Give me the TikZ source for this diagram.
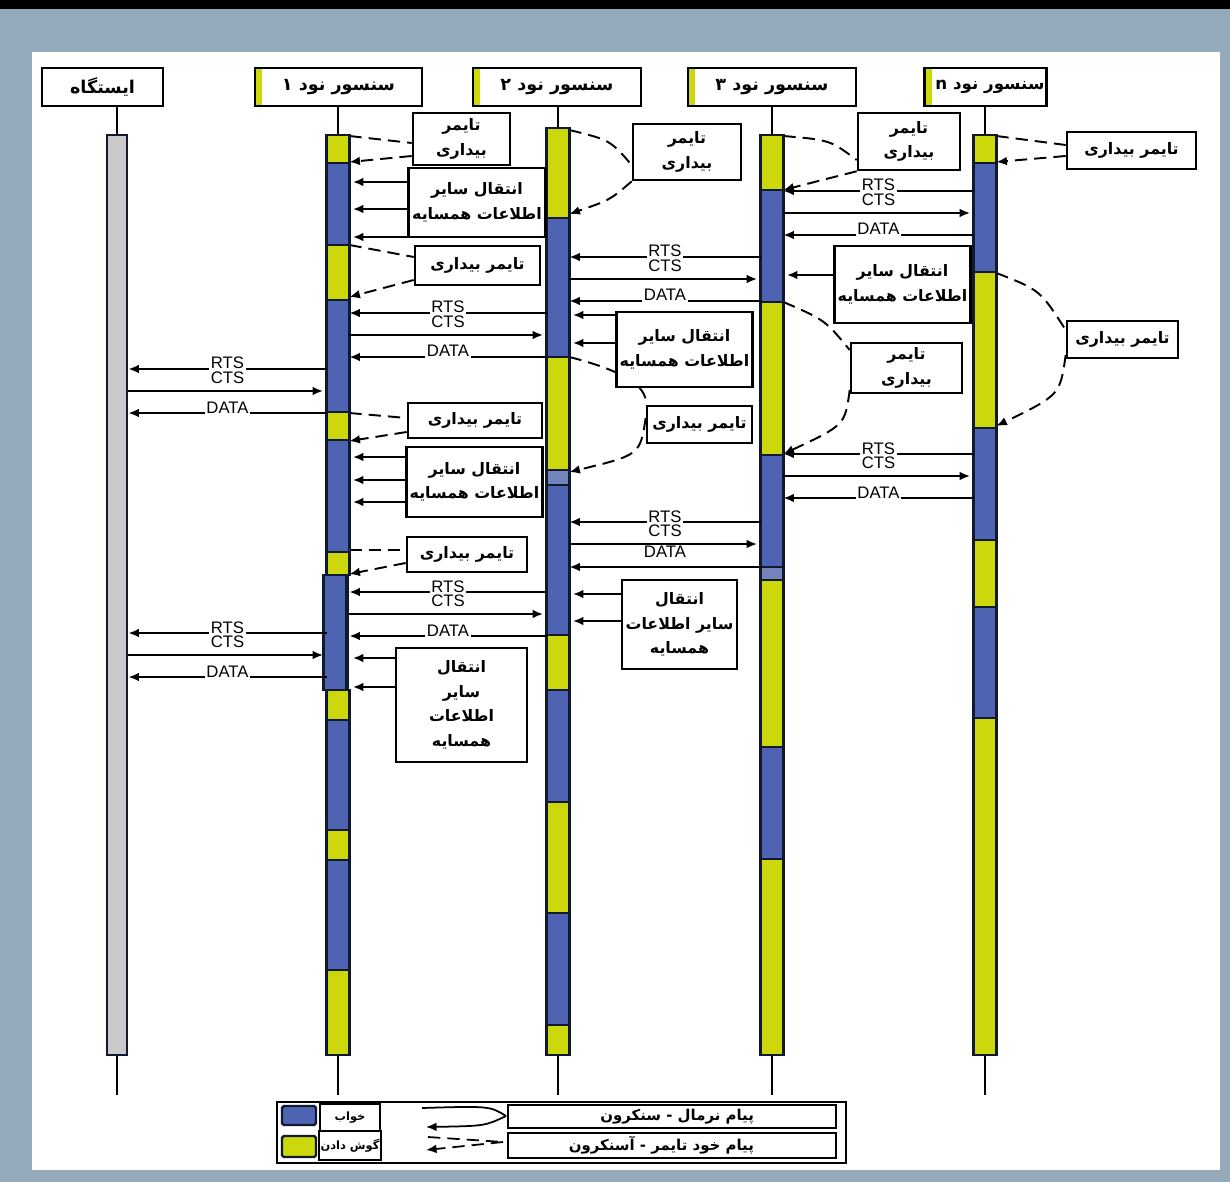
\documentclass[tikz,border=0pt]{standalone}
\usepackage{fontspec}
\usetikzlibrary{arrows.meta}
\setmainfont{Liberation Sans}
\newfontfamily\farsi[Script=Arabic]{DejaVu Sans}
\TeXXeTstate=1
\newcommand{\fa}[1]{{\farsi\bfseries\beginR #1\endR}}

\definecolor{FrameSlate}{HTML}{94A9BA}
\definecolor{BarSleep}{HTML}{4F63B3}
\definecolor{BarSleepPale}{HTML}{7383BC}
\definecolor{BarListen}{HTML}{CCD80C}
\definecolor{BarStation}{HTML}{C9C9C9}
\definecolor{BarEdge}{HTML}{111A2C}

\pgfdeclarelayer{back}
\pgfdeclarelayer{curves}
\pgfsetlayers{back,curves,main}

\tikzset{
  headbox/.style={draw,line width=1.6pt,fill=white,minimum height=0.76cm,font=\fontsize{10}{12}\selectfont},
  headnode/.style={headbox,path picture={\fill[BarListen] (path picture bounding box.north west) rectangle ([xshift=4pt]path picture bounding box.south west);}},
  lifebar/.style={draw=BarEdge,line width=1.6pt,minimum width=0.4cm,inner sep=0pt},
  seg/.style={draw=BarEdge,line width=1.5pt},
  stem/.style={line width=1.3pt},
  infobox/.style={draw,line width=1.5pt,fill=white,align=center,inner sep=2pt,font=\fontsize{9}{14}\selectfont},
  msg/.style={line width=1.1pt,-{Latex[length=6pt,width=5pt]}},
  inform/.style={msg,shorten >=2pt},
  timer/.style={line width=1.1pt,dash pattern=on 7pt off 4pt},
  timerin/.style={timer,-{Latex[length=6pt,width=5pt]}},
  tag/.style={font=\fontsize{9.5}{11}\selectfont,fill=white,inner sep=1pt,anchor=base},
  tagup/.style={font=\fontsize{9.5}{11}\selectfont,inner sep=1pt,anchor=base,yshift=4.5pt},
  swatch/.style={draw=BarEdge,line width=1.4pt,minimum width=0.68cm,rounded corners=1pt},
  keybox/.style={draw,line width=1pt,fill=white,inner sep=1pt,font=\fontsize{6.5}{8}\selectfont},
  keytext/.style={inner sep=1pt,font=\fontsize{8.5}{10}\selectfont}
}

\begin{document}
\begin{tikzpicture}[x=0.02cm,y=-0.02cm]
  \useasboundingbox (0,0) rectangle (1230,1182);
  \begin{pgfonlayer}{back}
    \fill[FrameSlate] (0,0) rectangle (1230,1182);
    \fill[black] (0,0) rectangle (1230,9);
    \fill[white] (32,52) rectangle (1220,1170);
  \end{pgfonlayer}

  % headers
  \node[headbox,minimum width=2.42cm] (H0) at (102.5,87) {\fa{ایستگاه}};
  \node[headnode,minimum width=3.34cm] (H1) at (338.5,87) {\fa{سنسور نود ۱}};
  \node[headnode,minimum width=3.36cm] (H2) at (557,87) {\fa{سنسور نود ۲}};
  \node[headnode,minimum width=3.36cm] (H3) at (772,87) {\fa{سنسور نود ۳}};
  \node[headnode,minimum width=2.3cm,inner xsep=1pt,font=\fontsize{9.5}{12}\selectfont] (H4) at (985.5,87) {\hspace*{5pt}\fa{سنسور نود n}};

  % lifelines
  \node[lifebar,fill=BarStation,minimum height=18.4cm] (L0) at (117,595) {};
  \node[lifebar,minimum height=18.4cm] (L1) at (338,595) {};
  \node[lifebar,minimum height=18.54cm] (L2) at (558,591.5) {};
  \node[lifebar,minimum height=18.4cm] (L3) at (772,595) {};
  \node[lifebar,minimum height=18.4cm] (L4) at (985,595) {};

  \coordinate (B0) at (117,1095);
  \coordinate (B1) at (338,1095);
  \coordinate (B2) at (558,1095);
  \coordinate (B3) at (772,1095);
  \coordinate (B4) at (985,1095);
  \foreach \i in {0,...,4} {
    \draw[stem] (H\i.south -| L\i.north) -- (L\i.north);
    \draw[stem] (L\i.south) -- (B\i);
  }

  % sleep / listen periods
  \foreach \a/\b/\c in {135/163/BarListen,163/245/BarSleep,245/300/BarListen,300/412/BarSleep,412/440/BarListen,440/552/BarSleep,552/575/BarListen,690/720/BarListen,720/830/BarSleep,830/860/BarListen,860/970/BarSleep,970/1055/BarListen}
    \draw[seg,fill=\c] (L1.west |- 0,\a) rectangle (L1.east |- 0,\b);
  \draw[seg,fill=BarSleep] ([xshift=-0.06cm]L1.west |- 0,575) rectangle ([xshift=-0.06cm]L1.east |- 0,690);
  \foreach \a/\b/\c in {128/218/BarListen,218/357/BarSleep,357/470/BarListen,470/485/BarSleepPale,485/635/BarSleep,635/690/BarListen,690/802/BarSleep,802/913/BarListen,913/1025/BarSleep,1025/1055/BarListen}
    \draw[seg,fill=\c] (L2.west |- 0,\a) rectangle (L2.east |- 0,\b);
  \foreach \a/\b/\c in {135/190/BarListen,190/302/BarSleep,302/455/BarListen,455/567/BarSleep,567/580/BarSleepPale,580/747/BarListen,747/859/BarSleep,859/1055/BarListen}
    \draw[seg,fill=\c] (L3.west |- 0,\a) rectangle (L3.east |- 0,\b);
  \foreach \a/\b/\c in {135/163/BarListen,163/272/BarSleep,272/428/BarListen,428/540/BarSleep,540/607/BarListen,607/718/BarSleep,718/1055/BarListen}
    \draw[seg,fill=\c] (L4.west |- 0,\a) rectangle (L4.east |- 0,\b);

  % timer and info boxes
  \node[infobox,minimum width=1.94cm,minimum height=1.04cm] (T1) at (461.5,139) {\fa{تایمر}\\\fa{بیداری}};
  \node[infobox,minimum width=2.52cm,minimum height=1.38cm] (X1) at (477,202.5) {\fa{انتقال سایر}\\\fa{اطلاعات همسایه}};
  \node[infobox,minimum width=2.5cm,minimum height=0.78cm] (T2) at (477.5,265.5) {\fa{تایمر بیداری}};
  \node[infobox,minimum width=2.16cm,minimum height=1.12cm] (T3) at (687,152) {\fa{تایمر}\\\fa{بیداری}};
  \node[infobox,minimum width=2.04cm,minimum height=1.14cm] (T4) at (909,141.5) {\fa{تایمر}\\\fa{بیداری}};
  \node[infobox,minimum width=2.58cm,minimum height=0.74cm] (T5) at (1131.5,150.5) {\fa{تایمر بیداری}};
  \node[infobox,minimum width=2.66cm,minimum height=1.54cm] (X2) at (902.5,284.5) {\fa{انتقال سایر}\\\fa{اطلاعات همسایه}};
  \node[infobox,minimum width=2.22cm,minimum height=0.74cm] (T6) at (1122.5,339.5) {\fa{تایمر بیداری}};
  \node[infobox,minimum width=2.66cm,minimum height=1.5cm] (X3) at (684.5,349.5) {\fa{انتقال سایر}\\\fa{اطلاعات همسایه}};
  \node[infobox,minimum width=2.22cm,minimum height=1.0cm] (T7) at (906.5,368) {\fa{تایمر}\\\fa{بیداری}};
  \node[infobox,minimum width=2.1cm,minimum height=0.74cm] (T8) at (699.5,424.5) {\fa{تایمر بیداری}};
  \node[infobox,minimum width=2.68cm,minimum height=0.7cm] (T9) at (475,420.5) {\fa{تایمر بیداری}};
  \node[infobox,minimum width=2.7cm,minimum height=1.4cm] (X4) at (474.5,482) {\fa{انتقال سایر}\\\fa{اطلاعات همسایه}};
  \node[infobox,minimum width=2.4cm,minimum height=0.7cm] (T10) at (467,554.5) {\fa{تایمر بیداری}};
  \node[infobox,minimum width=1.94cm,minimum height=1.78cm] (X5) at (679.5,624.5) {\fa{انتقال}\\\fa{سایر اطلاعات}\\\fa{همسایه}};
  \node[infobox,minimum width=2.62cm,minimum height=2.28cm] (X6) at (461.5,705) {\fa{انتقال}\\\fa{سایر}\\\fa{اطلاعات}\\\fa{همسایه}};

  % wake-up timers
  \begin{pgfonlayer}{curves}
    \draw[timer] (L1.east |- 0,136) -- (T1.west |- 0,143);
    \draw[timerin] (T1.west |- 0,156) -- (L1.east |- 0,162);
    \draw[timer] (L1.east |- 0,245) -- (T2.west |- 0,257);
    \draw[timerin] (T2.west |- 0,280) -- (L1.east |- 0,297);
    \draw[timer] (L2.east |- 0,130) .. controls (610,140) .. (T3.west |- 0,165);
    \draw[timerin] (T3.south west) .. controls (610,200) .. (L2.east |- 0,214);
    \draw[timer] (L3.east |- 0,136) .. controls (830,140) .. (T4.west |- 0,160);
    \draw[timerin] (T4.south west) .. controls (830,178) .. (L3.east |- 0,190);
    \draw[timer] (L4.east |- 0,136) -- (T5.west |- 0,145);
    \draw[timerin] (T5.west |- 0,156) -- (L4.east |- 0,162);
    \draw[timer] (L4.east |- 0,273) .. controls (1040,290) .. (T6.west |- 0,330);
    \draw[timerin] (T6.west |- 0,355) .. controls (1060,395) .. (L4.east |- 0,426);
    \draw[timer] (L3.east |- 0,302) .. controls (825,320) .. (T7.west |- 0,350);
    \draw[timerin] (T7.west |- 0,390) .. controls (845,425) .. (L3.east |- 0,454);
    \draw[timer] (L2.east |- 0,357) .. controls (620,370) and (648,385) .. (T8.north west);
    \draw[timerin] (T8.west |- 0,418) .. controls (640,455) .. (L2.east |- 0,472);
    \draw[timer] (L1.east |- 0,413) -- (T9.west |- 0,418);
    \draw[timerin] (T9.west |- 0,432) -- (L1.east |- 0,441);
    \draw[timer] (L1.east |- 0,550) -- (T10.west |- 0,550);
    \draw[timerin] (T10.west |- 0,563) -- (L1.east |- 0,574);
  \end{pgfonlayer}

  % neighbour info
  \foreach \y in {182,209,237} \draw[inform] (X1.west |- 0,\y) -- (L1.east |- 0,\y);
  \draw[inform] (X2.west |- 0,275) -- (L3.east |- 0,275);
  \foreach \y in {315,343} \draw[inform] (X3.west |- 0,\y) -- (L2.east |- 0,\y);
  \foreach \y in {457,480,502} \draw[inform] (X4.west |- 0,\y) -- (L1.east |- 0,\y);
  \foreach \y in {594,621} \draw[inform] (X5.west |- 0,\y) -- (L2.east |- 0,\y);
  \foreach \y in {658,687} \draw[inform] (X6.west |- 0,\y) -- (L1.east |- 0,\y);

  % RTS / CTS / DATA
  \foreach \l/\r/\y in {L3/L4/191,L2/L3/257,L1/L2/313,L0/L1/369,L3/L4/454,L1/L2/592,L0/L1/633} {
    \draw[msg] (\r.west |- 0,\y) -- node[tag] {RTS} (\l.east |- 0,\y);
    \draw[msg,shorten >=2pt] (\l.east |- 0,\y+22) -- node[tagup] {CTS} (\r.west |- 0,\y+22);
    \draw[msg] (\r.west |- 0,\y+44) -- node[tag] {DATA} (\l.east |- 0,\y+44);
  }
  \draw[msg] (L3.west |- 0,522) -- node[tag] {RTS} (L2.east |- 0,522);
  \draw[msg,shorten >=2pt] (L2.east |- 0,544) -- node[tagup] {CTS} (L3.west |- 0,544);
  \draw[msg] (L3.west |- 0,567) -- node[tagup,yshift=1pt] {DATA} (L2.east |- 0,567);

  % legend
  \node[draw,line width=1.2pt,fill=white,minimum width=11.38cm,minimum height=1.22cm] (LG) at (561.5,1132.5) {};
  \node[swatch,fill=BarSleep,minimum height=0.38cm] (LS) at (299,1115.5) {};
  \node[swatch,fill=BarListen,minimum height=0.42cm] (LL) at (299,1146.5) {};
  \node[keybox,minimum width=1.2cm,minimum height=0.54cm] (KS) at (350,1117.5) {\fa{خواب}};
  \node[keybox,minimum width=1.2cm,minimum height=0.58cm] (KL) at (350,1145.5) {\fa{گوش دادن}};
  \node[keybox,minimum width=6.56cm,minimum height=0.46cm] (KN) at (672,1116.5) {};
  \node[keytext,anchor=east] (KNt) at (756,1116.5) {\fa{پیام نرمال - سنکرون}};
  \node[keybox,minimum width=6.56cm,minimum height=0.5cm] (KA) at (672,1145.5) {};
  \node[keytext,anchor=east] (KAt) at (756,1145.5) {\fa{پیام خود تایمر - آسنکرون}};
  \coordinate (SN0) at (422,1108);
  \coordinate (SN1) at (506,1116);
  \coordinate (SN2) at (426,1127);
  \draw[line width=1pt] (SN0) .. controls (490,1106) .. (SN1);
  \draw[msg,line width=1pt] (SN1) .. controls (485,1126) .. (SN2);
  \coordinate (SA0) at (428,1137);
  \coordinate (SA1) at (503,1142);
  \coordinate (SA2) at (426,1150);
  \draw[timer,line width=1pt] (SA0) -- (SA1);
  \draw[timerin,line width=1pt] (SA1) -- (SA2);
\end{tikzpicture}
\end{document}
